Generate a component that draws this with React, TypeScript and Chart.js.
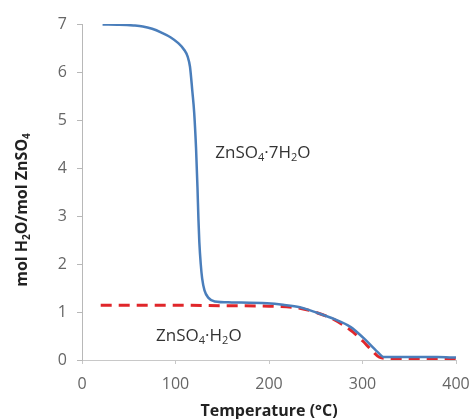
import React, { useEffect, useRef } from "react";
import { Chart, registerables } from "chart.js";

Chart.register(...registerables);

const heptaT = [22, 40, 55, 65, 75, 85, 95, 103, 109, 113, 115.5, 118, 120, 122, 123.5, 124.5, 125.5, 127, 128.5, 131, 135, 142, 160, 198, 215, 233, 252, 270, 287, 301, 316, 323, 340, 380, 400];
const heptaV = [6.99, 6.985, 6.97, 6.95, 6.9, 6.82, 6.72, 6.6, 6.47, 6.32, 6.11, 5.6, 5.15, 4.4, 3.6, 2.95, 2.45, 2.0, 1.7, 1.45, 1.3, 1.22, 1.2, 1.18, 1.15, 1.1, 0.98, 0.85, 0.69, 0.46, 0.17, 0.06, 0.06, 0.06, 0.05];

const monoT = [20, 60, 100, 150, 200, 233, 252, 268, 280, 290, 300, 310, 318, 330, 360, 400];
const monoV = [1.14, 1.14, 1.14, 1.13, 1.12, 1.08, 0.98, 0.86, 0.72, 0.58, 0.4, 0.2, 0.06, 0.03, 0.02, 0.01];

const xTicks = [0, 100, 200, 300, 400];
const yTicks = [0, 1, 2, 3, 4, 5, 6, 7];

// "_n" marks a subscript digit
const labels = [
  { text: "ZnSO_4·7H_2O", x: 193.5, y: 4.31 },
  { text: "ZnSO_4·H_2O", x: 125, y: 0.5 },
];

const xTitle = "Temperature (°C)";
const yTitle = "mol H_2O/mol ZnSO_4";

const FONT = "'Open Sans', 'DejaVu Sans', sans-serif";

function segments(text: string) {
  const out: { s: string; sub: boolean }[] = [];
  const parts = text.split(/_(\d)/);
  parts.forEach((p, i) => {
    if (p) out.push({ s: p, sub: i % 2 === 1 });
  });
  return out;
}

function drawRich(ctx: CanvasRenderingContext2D, text: string, cx: number, cy: number, size: number, weight: string) {
  const segs = segments(text);
  const main = `${weight} ${size}px ${FONT}`;
  const small = `${weight} ${Math.round(size * 0.62)}px ${FONT}`;
  let total = 0;
  const widths = segs.map((g) => {
    ctx.font = g.sub ? small : main;
    const w = ctx.measureText(g.s).width;
    total += w;
    return w;
  });
  let x = cx - total / 2;
  ctx.textAlign = "left";
  ctx.textBaseline = "middle";
  segs.forEach((g, i) => {
    ctx.font = g.sub ? small : main;
    ctx.fillText(g.s, x, g.sub ? cy + size * 0.3 : cy);
    x += widths[i];
  });
}

const overlay = {
  id: "overlay",
  afterDraw(chart: any) {
    const ctx = chart.ctx;
    const xs = chart.scales.x;
    const ys = chart.scales.y;
    const area = chart.chartArea;
    ctx.save();
    ctx.fillStyle = "#333333";
    for (const l of labels) {
      drawRich(ctx, l.text, xs.getPixelForValue(l.x), ys.getPixelForValue(l.y), 17, "normal");
    }
    ctx.fillStyle = "#222222";
    drawRich(ctx, xTitle, (area.left + area.right) / 2, 411, 16, "bold");
    ctx.translate(22, 210);
    ctx.rotate(-Math.PI / 2);
    drawRich(ctx, yTitle, 0, 0, 16, "bold");
    ctx.restore();
  },
};

export default function App() {
  const ref = useRef<HTMLCanvasElement>(null);
  useEffect(() => {
    const chart = new Chart(ref.current!, {
      type: "line",
      data: {
        datasets: [
          {
            label: "ZnSO4·7H2O",
            data: heptaT.map((t, i) => ({ x: t, y: heptaV[i] })),
            borderColor: "#4a7ebb",
            borderWidth: 2.5,
            pointRadius: 0,
            cubicInterpolationMode: "monotone",
          },
          {
            label: "ZnSO4·H2O",
            data: monoT.map((t, i) => ({ x: t, y: monoV[i] })),
            borderColor: "#e0262a",
            borderWidth: 3,
            borderDash: [11, 7],
            pointRadius: 0,
            cubicInterpolationMode: "monotone",
          },
        ],
      },
      options: {
        animation: false,
        responsive: false,
        maintainAspectRatio: false,
        layout: { padding: { top: 24, right: 14, left: 0, bottom: 0 } },
        plugins: { legend: { display: false }, tooltip: { enabled: false } },
        scales: {
          x: {
            type: "linear",
            min: 0,
            max: 400,
            afterBuildTicks: (s: any) => {
              s.ticks = xTicks.map((v) => ({ value: v }));
            },
            afterFit: (s: any) => {
              s.height = 59;
              s.paddingLeft = 0;
              s.paddingRight = 0;
            },
            grid: { drawOnChartArea: false, tickLength: 4, color: "#c8c8c8" },
            border: { color: "#c8c8c8" },
            ticks: { padding: 11, color: "#666666", font: { family: FONT, size: 16 }, maxRotation: 0 },
          },
          y: {
            type: "linear",
            min: 0,
            max: 7,
            afterBuildTicks: (s: any) => {
              s.ticks = yTicks.map((v) => ({ value: v }));
            },
            afterFit: (s: any) => {
              s.width = 82;
              s.paddingTop = 0;
              s.paddingBottom = 0;
            },
            grid: { drawOnChartArea: false, tickLength: 5, color: "#b8b8b8" },
            border: { color: "#b8b8b8" },
            ticks: { padding: 10, color: "#666666", font: { family: FONT, size: 16 } },
          },
        },
      },
      plugins: [overlay],
    });
    return () => chart.destroy();
  }, []);
  return (
    <div style={{ position: "fixed", left: 0, top: 0, width: 470, height: 419, background: "#fff" }}>
      <canvas ref={ref} width={470} height={419} style={{ width: 470, height: 419 }} />
    </div>
  );
}
